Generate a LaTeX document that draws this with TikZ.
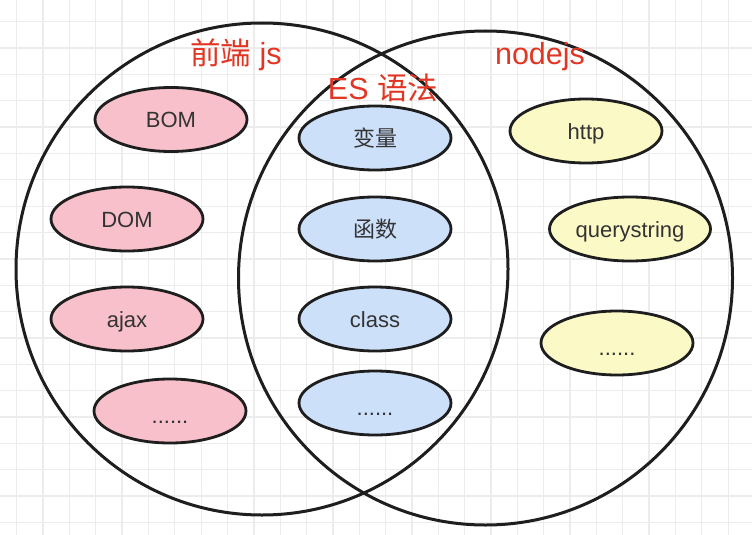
\documentclass[tikz,border=0pt]{standalone}
\usepackage{fontspec}
\setmainfont{Liberation Sans}
\newfontfamily\cjk{Noto Sans CJK SC}
\usetikzlibrary{shapes.geometric}
\definecolor{pinkfill}{RGB}{247,192,202}
\definecolor{bluefill}{RGB}{205,224,250}
\definecolor{yellowfill}{RGB}{251,250,198}
\definecolor{titlered}{RGB}{226,54,36}
\definecolor{gridgray}{RGB}{236,236,236}
\definecolor{txt}{RGB}{51,51,51}
\definecolor{edge}{RGB}{30,30,30}
\tikzset{
  blob/.style={ellipse, draw=edge, line width=2.8pt, minimum width=152pt, minimum height=64pt, inner sep=0pt, text=txt, font=\fontsize{22}{24}\selectfont, text height=16pt, text depth=0pt},
  dotsblob/.style={text height=25pt},
  pinkblob/.style={blob, fill=pinkfill},
  blueblob/.style={blob, fill=bluefill},
  yellowblob/.style={blob, fill=yellowfill},
  ring/.style={circle, draw=edge, line width=3pt, minimum size=492pt, inner sep=0pt},
  title/.style={text=titlered, font=\fontsize{30.5}{32}\selectfont, inner sep=0pt}
}
\begin{document}
\begin{tikzpicture}[x=1pt,y=-1pt]
\useasboundingbox (0,0) rectangle (752,535);
\fill[white] (0,0) rectangle (752,535);
% grid
\foreach \i in {0,...,28} {
  \draw[gridgray, line width=1.3pt] ({16.7+26.35*\i},0) -- ({16.7+26.35*\i},535);
}
\foreach \j in {0,...,20} {
  \draw[gridgray, line width=1.3pt] (0,{21.7+26.35*\j}) -- (752,{21.7+26.35*\j});
}
% big circles
\node[ring] (front) at (262,269) {};
\node[ring, minimum size=494pt] (nodejsring) at (485.5,278) {};
% titles
\node[title] (t1) at (236,55) {{\cjk 前端} js};
\node[title] (t2) at (383,88) {ES {\cjk 语法}};
\node[title] (t3) at (540,57) {nodejs};
% pink
\node[pinkblob] (bom) at (171,119.5) {BOM};
\node[pinkblob] (dom) at (127,219) {DOM};
\node[pinkblob] (ajax) at (127,319) {ajax};
\node[pinkblob, dotsblob] (pdots) at (170,411) {......};
% blue
\node[blueblob] (var) at (375,138) {{\cjk 变量}};
\node[blueblob] (func) at (375,229) {{\cjk 函数}};
\node[blueblob] (cls) at (375,319) {class};
\node[blueblob, dotsblob] (bdots) at (375,403) {......};
% yellow
\node[yellowblob] (http) at (586,131) {http};
\node[yellowblob, minimum width=161pt] (qs) at (630,229) {querystring};
\node[yellowblob, dotsblob] (ydots) at (617,343) {......};
\end{tikzpicture}
\end{document}
